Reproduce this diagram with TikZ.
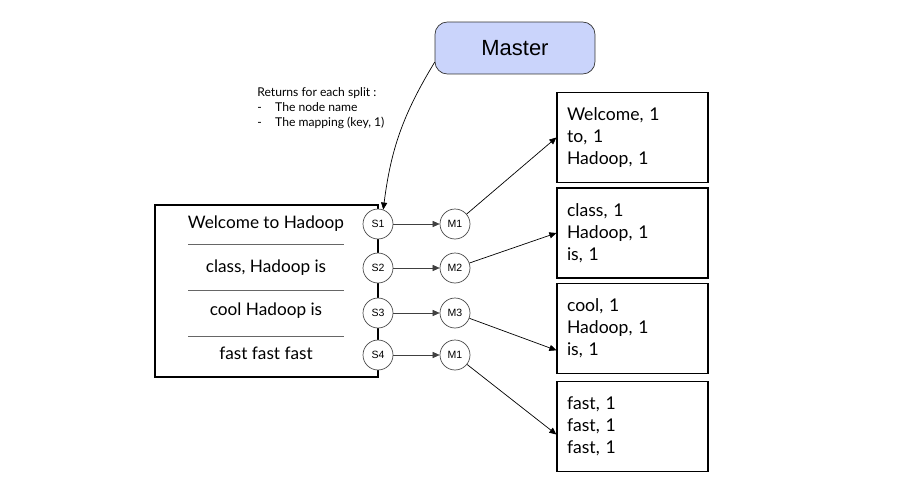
\documentclass[tikz,border=0pt]{standalone}
\usepackage{fontspec}
\setmainfont{Lato}
\newfontfamily\arialfont{Liberation Sans}
\usetikzlibrary{arrows.meta}

\definecolor{masterblue}{HTML}{CAD4FB}

\tikzset{
	splitnode/.style={circle, draw=black!70, fill=white, minimum size=0.6cm, inner sep=0pt, font=\arialfont\fontsize{6}{7}\selectfont},
	mapnode/.style={splitnode},
	pairbox/.style={draw, line width=0.7pt, minimum width=3.02cm, minimum height=1.8cm, text width=2.62cm, inner xsep=0.2cm, align=left, font=\fontsize{10}{12.4}\selectfont},
	arr/.style={-{Triangle[length=4pt,width=3.5pt]}},
}

\begin{document}
\begin{tikzpicture}[x=0.02cm, y=-0.02cm]

	\useasboundingbox (0,0) rectangle (916,480);

	% Master
	\node[draw=black!80, fill=masterblue, rounded corners=7pt, minimum width=3.2cm, minimum height=1.04cm, font=\arialfont\fontsize{12.5}{14}\selectfont] (master) at (515,48) {Master};

	% Note
	\node[anchor=north west, align=left, inner sep=0pt, font=\fontsize{6.9}{8.7}\selectfont] (note) at (257,87)
		{Returns for each split :\\-\hspace{1.1em}The node name\\-\hspace{1.1em}The mapping (key, 1)};

	% Input file
	\draw[line width=0.8pt] (155,205) rectangle (378,377);
	\foreach \y in {244, 290, 336}
	{
		\draw[black!60] (188,\y) -- (344,\y);
	}
	\foreach \i/\y/\txt in {1/224/Welcome to Hadoop, 2/268/{class, Hadoop is}, 3/311/cool Hadoop is, 4/353/fast fast fast}
	{
		\node[font=\fontsize{9.8}{12}\selectfont] (line\i) at (266,\y) {\txt};
	}

	% Splits and mappers
	\foreach \i/\y/\m in {1/224/M1, 2/268/M2, 3/313/M3, 4/355/M1}
	{
		\node[splitnode] (s\i) at (378,\y) {S\i};
		\node[mapnode] (m\i) at (455,\y) {\m};
		\draw[arr, black!75] (s\i) -- (m\i);
	}

	% Output pairs
	\node[pairbox] (b1) at (632.5,137.5) {Welcome, 1\\to, 1\\Hadoop, 1};
	\node[pairbox] (b2) at (632.5,233) {class, 1\\Hadoop, 1\\is, 1};
	\node[pairbox] (b3) at (632.5,328.5) {cool, 1\\Hadoop, 1\\is, 1};
	\node[pairbox] (b4) at (632.5,426.5) {fast, 1\\fast, 1\\fast, 1};

	\draw[arr] (m1) -- (b1.west);
	\draw[arr] (m2) -- (b2.west);
	\draw[arr] (m3) -- (b3.196);
	\draw[arr] (m4) -- (b4.186);

	% Master to first split
	\draw[arr] (master.190) to[bend right=12] (s1.70);

\end{tikzpicture}
\end{document}
